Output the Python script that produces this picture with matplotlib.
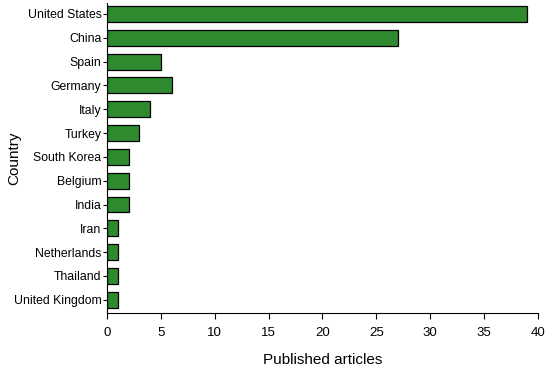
import matplotlib.pyplot as plt

countries = ['United States', 'China', 'Spain', 'Germany', 'Italy', 'Turkey',
             'South Korea', 'Belgium', 'India', 'Iran', 'Netherlands',
             'Thailand', 'United Kingdom']
articles = [39, 27, 5, 6, 4, 3, 2, 2, 2, 1, 1, 1, 1]
xticks = [0, 5, 10, 15, 20, 25, 30, 35, 40]

plt.rcParams['font.family'] = ['Liberation Sans', 'DejaVu Sans']

fig = plt.figure(figsize=(5.5, 3.66), dpi=100)
ax = fig.add_axes([0.1945, 0.145, 0.7835, 0.847])

pos = list(range(len(countries)))
ax.barh(pos, articles, height=0.67, color='#2f8a2f', edgecolor='black', linewidth=0.9)

ax.set_yticks(pos)
ax.set_yticklabels(countries, fontsize=8.8)
ax.set_ylim(len(countries) - 0.45, -0.46)
ax.set_xlim(0, 40)
ax.set_xticks(xticks)
ax.tick_params(axis='x', labelsize=9.5, length=4, width=0.8, pad=6)
ax.tick_params(axis='y', length=3, width=0.8, pad=1)

ax.spines['top'].set_visible(False)
ax.spines['right'].set_visible(False)
ax.spines['left'].set_linewidth(0.8)
ax.spines['bottom'].set_linewidth(0.8)

ax.set_xlabel('Published articles', fontsize=11, labelpad=10)
ax.set_ylabel('Country', fontsize=11)
ax.yaxis.set_label_coords(-0.2, 0.5)

fig.savefig('out.png', dpi=100)
